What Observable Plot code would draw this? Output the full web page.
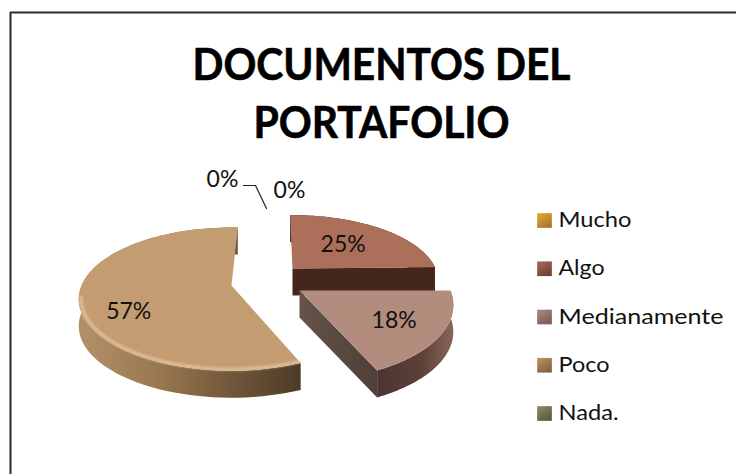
<!DOCTYPE html>
<html><head><meta charset="utf-8">
<style>html,body{margin:0;padding:0;background:#fff}svg{display:block}</style>
<script src="https://cdn.jsdelivr.net/npm/d3@7"></script>
<script src="https://cdn.jsdelivr.net/npm/@observablehq/plot@0.6"></script>
</head><body><div id="chart"></div>
<script>
const categories = ["Mucho","Algo","Medianamente","Poco","Nada."];
const values = [0,25,18,57,0];
const titleLines = ["DOCUMENTOS DEL","PORTAFOLIO"];
const swatchColors = [["#eaa935","#a9772a"],["#a8695a","#6f4236"],["#b08a82","#7d5d58"],["#c09568","#85633f"],["#8f8a6c","#5f5b42"]];
const topColors = ["#d8962c","#ab6f5a","#b28d7e","#c49c72","#7f7a5b"];

// layout (not data)
const Ry = 69, K = 0.19, DEPTH = 27;
const apex = {Algo:[292,268,143,-0.02,0.92], Medianamente:[299,290,151,0,1.06], Poco:[231,285,150,0.05,1], Mucho:[262,262,148,0,1], "Nada.":[262,262,148,0,1]};
const labelFrac = {Algo:[0.55,0], Medianamente:[0.69,1], Poco:[0.68,18], Mucho:[0,-84], "Nada.":[0,-84]};
const labelShift = {Mucho:[27,12], "Nada.":[-40,1]};
const legendWidths = [73,46,165,51,60];
const titleWidths = [378,256];

const pie = d3.pie().sort(null).value(d=>d)(values);
const slices = categories.map((c,i)=>({cat:c,value:values[i],a0:pie[i].startAngle,a1:pie[i].endAngle,color:topColors[i]}));
function proj(c,a0,r=1){
  const [ax,ay,R,nudge,ys]=apex[c], a=a0+nudge;
  const u=r*Math.sin(a), v=-r*Math.cos(a), w=1-K*v;
  return {x:ax+R*u/w, y:ay+Ry*ys*v/w};
}
function arc(c,a0,a1,r=1){return d3.range(0,81).map(i=>proj(c,a0+(a1-a0)*i/80,r));}
const down=p=>({x:p.x,y:p.y+DEPTH});
function wall(pts){return [...pts,...pts.slice().reverse().map(down)];}
function face(s){const o=proj(s.cat,0,0);return [o,...arc(s.cat,s.a0,s.a1)];}
const soft="blur(0.6px)";
const poly=(pts,fill)=>Plot.line(pts,{x:"x",y:"y",fill,stroke:"none",curve:"linear",imageFilter:soft});

const [algo,medi,poco]=[slices[1],slices[2],slices[3]];
const cut=(s,a)=>{const o=proj(s.cat,0,0),e=proj(s.cat,a);return wall([o,e]);};

const defs=()=>{
  const d=d3.create("svg:defs");
  const grad=(id,stops,x2=1,y2=0)=>{
    const g=d.append("linearGradient").attr("id",id).attr("x1",0).attr("y1",0).attr("x2",x2).attr("y2",y2);
    stops.forEach(([o,c])=>g.append("stop").attr("offset",o).attr("stop-color",c));
  };
  grad("pocoWall",[[0,"#b3906a"],[0.35,"#99794f"],[0.6,"#7b5f3f"],[1,"#4c3b28"]]);
  grad("mediWall",[[0,"#4b3430"],[0.6,"#5e4239"],[1,"#86665a"]]);
  grad("mediCut",[[0,"#66534b"],[1,"#4f3e39"]]);
  swatchColors.forEach((c,i)=>grad("sw"+i,[[0,c[0]],[1,c[1]]],0.6,1));
  return d.node();
};

const lx=558, ly=d3.scalePoint(categories,[220,413]);
const labels=slices.map(s=>{
  const [f,dy]=labelFrac[s.cat], mid=(s.a0+s.a1)/2, p=proj(s.cat,mid,f), sh=labelShift[s.cat]||[0,0];
  return {x:p.x+sh[0],y:p.y+dy+sh[1],t:Math.round(s.value)+"%"};
});
const lead=labels[4];
const leader=[{x:lead.x+21,y:lead.y+6},{x:lead.x+33,y:lead.y+6},{x:lead.x+44,y:lead.y+29}];

const plot=Plot.plot({
  width:736,height:474,margin:0,
  x:{domain:[0,736],range:[0,736],axis:null},
  y:{domain:[0,474],range:[0,474],axis:null},
  style:{background:"#fff",fontFamily:"Lato, sans-serif"},
  marks:[
    defs,
    Plot.ruleX([10],{y1:12,y2:474,stroke:"#2a2a2a",strokeWidth:2}),
    Plot.ruleY([12],{x1:10,x2:736,stroke:"#2a2a2a",strokeWidth:2}),
    // Algo
    poly(wall(arc("Algo",algo.a0,algo.a1)),"#45261a"),
    poly(cut(algo,algo.a1),"#45261a"),
    poly(face(algo),algo.color),
    // Poco
    poly(wall(arc("Poco",poco.a0,poco.a1)),"url(#pocoWall)"),
    poly(face(poco),poco.color),
    Plot.line(arc("Poco",poco.a0,poco.a0+(poco.a1-poco.a0)*0.5,0.985),{x:"x",y:"y",stroke:"#e8cba8",strokeWidth:3,strokeOpacity:0.75,imageFilter:"blur(1.2px)"}),
    // Medianamente
    poly(cut(medi,medi.a1),"url(#mediCut)"),
    poly(wall(arc("Medianamente",medi.a0,medi.a1)),"url(#mediWall)"),
    poly(face(medi),medi.color),
    // labels
    Plot.text(labels,{x:"x",y:"y",text:"t",fontSize:23,fill:"#111"}),
    Plot.line(leader,{x:"x",y:"y",stroke:"#222",strokeWidth:1.2}),
    // legend
    ...categories.map((c,i)=>Plot.dot([c],{x:()=>544,y:()=>ly(c),symbol:"square",r:8.3,fill:`url(#sw${i})`,stroke:"none"})),
    Plot.text(categories,{x:()=>lx,y:d=>ly(d),text:d=>d,textAnchor:"start",fontSize:21,fill:"#111",className:"legend-text"}),
    // title
    Plot.text(titleLines,{x:()=>381,y:(d,i)=>66+i*58,text:d=>d,fontSize:43,fontWeight:"bold",fill:"#000",stroke:"#000",strokeWidth:0.6,className:"title-text"})
  ]
});
const fit=(sel,widths)=>d3.select(plot).selectAll(sel).each(function(d,i){
  this.setAttribute("textLength",widths[i]);
  this.setAttribute("lengthAdjust","spacingAndGlyphs");
});
fit(".legend-text text",legendWidths);
fit(".title-text text",titleWidths);
document.getElementById("chart").append(plot);
</script></body></html>
